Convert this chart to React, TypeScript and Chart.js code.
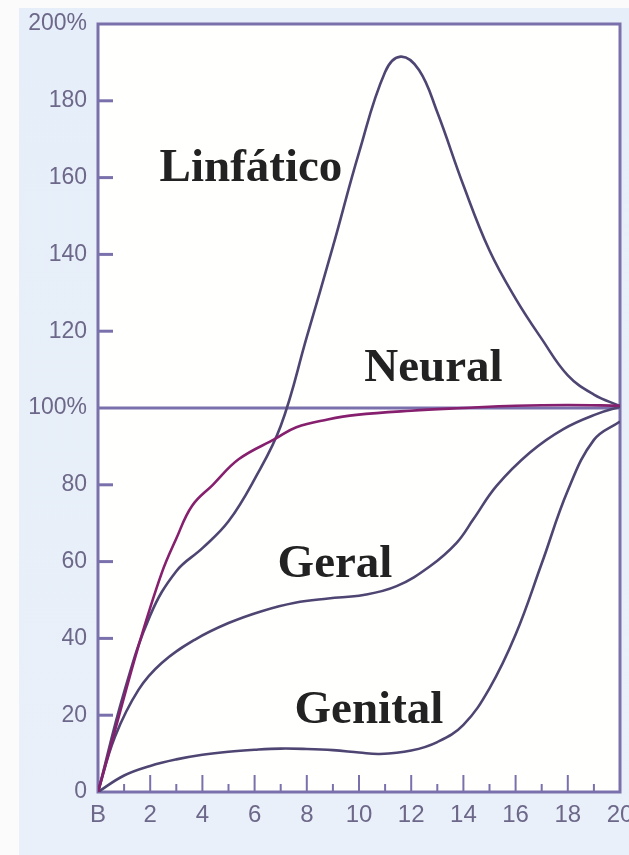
import React, { useEffect, useRef } from 'react';
import { Chart, registerables } from 'chart.js';

Chart.register(...registerables);

// Axis ticks
const yTickValues = [0, 20, 40, 60, 80, 100, 120, 140, 160, 180, 200];
const yTickLabels = ['0', '20', '40', '60', '80', '100%', '120', '140', '160', '180', '200%'];
const xTickYears = [0, 2, 4, 6, 8, 10, 12, 14, 16, 18, 20];
const xTickLabels = ['B', '2', '4', '6', '8', '10', '12', '14', '16', '18', '20'];
const xMinorYears = [1, 3, 5, 7, 9, 11, 13, 15, 17, 19];
const yInnerTicks = [20, 40, 60, 80, 120, 140, 160, 180];

// Reference line (100%)
const refAges = [0, 20];
const refValues = [100, 100];

// Linfático
const lymphAges = [0, 1, 2, 3, 4, 5, 6, 7, 8, 9, 10, 11, 11.6, 12.3, 13, 14, 15, 16, 17, 18, 19, 20];
const lymphValues = [0, 26, 46, 57.5, 63.5, 70.5, 81.5, 95.3, 118.5, 142, 166.5, 187.5, 191.5, 188, 177, 158, 141, 128.5, 118, 108.5, 103.5, 100.5];

// Neural
const neuralAges = [0, 0.65, 1.55, 2.44, 3, 3.6, 4.4, 5.4, 6.8, 7.6, 8.8, 9.9, 12, 14, 16, 18, 20];
const neuralValues = [0, 16, 38, 57, 66, 74.5, 80, 86.7, 92, 95, 97, 98.2, 99.3, 100, 100.6, 100.8, 100.6];

// Geral
const generalAges = [0, 0.65, 1.55, 2.44, 3.72, 5, 6.27, 7.55, 8.82, 10.17, 11.44, 12.72, 13.74, 14.38, 15.27, 16.55, 17.83, 19.1, 20];
const generalValues = [0, 14.4, 26.6, 33.6, 39.7, 44, 47.1, 49.3, 50.4, 51.3, 53.6, 58.8, 64.9, 71, 79.7, 88.4, 94.5, 98.4, 100.3];

// Genital
const genitalAges = [0, 1, 2, 3, 4, 5, 6, 7, 8, 9, 10, 10.8, 12, 13, 14, 15, 16, 17, 18, 19, 20];
const genitalValues = [0, 4.3, 6.8, 8.5, 9.7, 10.5, 11, 11.3, 11.2, 10.9, 10.3, 9.9, 10.8, 13, 17.5, 27, 41, 59.5, 78.5, 91.7, 96.5];

// In-plot labels (anchored in data coordinates)
const labelNames = ['Linfático', 'Neural', 'Geral', 'Genital'];
const labelAges = [2.36, 10.2, 6.88, 7.53];
const labelValues = [159, 107, 56, 18];

const toPoints = (xs: number[], ys: number[]) => xs.map((x, i) => ({ x, y: ys[i] }));

const PURPLE = '#7a70ac';
const CURVE = '#4f4572';
const NEURAL = '#86206e';
const TICK_TEXT = '#6d6889';

const decorPlugin = {
  id: 'decor',
  beforeDraw(chart: any) {
    const { ctx, width, height, chartArea } = chart;
    ctx.save();
    ctx.fillStyle = '#fbfbfc';
    ctx.fillRect(0, 0, width, height);
    const grad = ctx.createLinearGradient(0, 0, 0, height);
    grad.addColorStop(0, '#e6eef9');
    grad.addColorStop(1, '#e9f0f9');
    ctx.fillStyle = grad;
    ctx.fillRect(19, 8, width - 19, height - 8);
    ctx.fillStyle = '#fffffd';
    ctx.fillRect(chartArea.left, chartArea.top, chartArea.right - chartArea.left, chartArea.bottom - chartArea.top);
    ctx.restore();
  },
  beforeDatasetsDraw(chart: any) {
    const { ctx, chartArea } = chart;
    const xs = chart.scales.x;
    const ys = chart.scales.y;
    ctx.save();
    ctx.strokeStyle = PURPLE;
    ctx.lineCap = 'butt';
    ctx.lineWidth = 3;
    yInnerTicks.forEach((v) => {
      const py = ys.getPixelForValue(v);
      ctx.beginPath();
      ctx.moveTo(chartArea.left, py);
      ctx.lineTo(chartArea.left + 15, py);
      ctx.stroke();
    });
    ctx.lineWidth = 2;
    xTickYears.slice(1, -1).forEach((v) => {
      const px = xs.getPixelForValue(v);
      ctx.beginPath();
      ctx.moveTo(px, chartArea.bottom);
      ctx.lineTo(px, chartArea.bottom - 17);
      ctx.stroke();
    });
    xMinorYears.forEach((v) => {
      const px = xs.getPixelForValue(v);
      ctx.beginPath();
      ctx.moveTo(px, chartArea.bottom);
      ctx.lineTo(px, chartArea.bottom - 8);
      ctx.stroke();
    });
    ctx.lineWidth = 3;
    ctx.strokeRect(chartArea.left, chartArea.top, chartArea.right - chartArea.left, chartArea.bottom - chartArea.top);
    ctx.restore();
  },
  afterDatasetsDraw(chart: any) {
    const { ctx } = chart;
    const xs = chart.scales.x;
    const ys = chart.scales.y;
    ctx.save();
    ctx.fillStyle = '#222222';
    ctx.font = 'bold 47px "Liberation Serif", "Times New Roman", serif';
    ctx.textAlign = 'left';
    ctx.textBaseline = 'alphabetic';
    labelNames.forEach((name, i) => {
      ctx.fillText(name, xs.getPixelForValue(labelAges[i]), ys.getPixelForValue(labelValues[i]));
    });
    ctx.restore();
  },
};

export default function App() {
  const canvasRef = useRef<HTMLCanvasElement | null>(null);

  useEffect(() => {
    if (!canvasRef.current) return;
    const curve = (label: string, xs: number[], ys: number[], color: string, order: number) => ({
      label,
      data: toPoints(xs, ys),
      borderColor: color,
      backgroundColor: color,
      borderWidth: 2.6,
      pointRadius: 0,
      fill: false,
      tension: 0.4,
      order,
    });
    const chart = new Chart(canvasRef.current, {
      type: 'line',
      data: {
        datasets: [
          curve('Neural', neuralAges, neuralValues, NEURAL, 1),
          curve('Linfático', lymphAges, lymphValues, CURVE, 2),
          curve('Geral', generalAges, generalValues, CURVE, 3),
          curve('Genital', genitalAges, genitalValues, CURVE, 4),
          { ...curve('100%', refAges, refValues, PURPLE, 5), borderWidth: 3, tension: 0 },
        ],
      },
      options: {
        animation: false,
        responsive: false,
        events: [],
        layout: { padding: { top: 24, right: 9, left: 0, bottom: 0 } },
        plugins: { legend: { display: false }, tooltip: { enabled: false } },
        scales: {
          x: {
            type: 'linear',
            min: 0,
            max: 20,
            border: { display: false },
            grid: { display: false, drawTicks: false },
            afterBuildTicks: (scale: any) => {
              scale.ticks = xTickYears.map((v) => ({ value: v }));
            },
            afterFit: (scale: any) => {
              scale.height = 63;
              scale.paddingLeft = 0;
              scale.paddingRight = 0;
            },
            ticks: {
              autoSkip: false,
              maxRotation: 0,
              padding: 9,
              color: TICK_TEXT,
              font: { family: '"Liberation Sans", Arial, sans-serif', size: 24 },
              callback: (v: any) => {
                const i = xTickYears.indexOf(Number(v));
                return i >= 0 ? xTickLabels[i] : '';
              },
            },
          },
          y: {
            type: 'linear',
            min: 0,
            max: 200,
            border: { display: false },
            grid: { display: false, drawTicks: false },
            afterBuildTicks: (scale: any) => {
              scale.ticks = yTickValues.map((v) => ({ value: v }));
            },
            afterFit: (scale: any) => {
              scale.width = 98;
              scale.paddingTop = 0;
              scale.paddingBottom = 0;
            },
            ticks: {
              autoSkip: false,
              padding: 11,
              color: TICK_TEXT,
              font: { family: '"Liberation Sans", Arial, sans-serif', size: 23 },
              callback: (v: any) => {
                const i = yTickValues.indexOf(Number(v));
                return i >= 0 ? yTickLabels[i] : '';
              },
            },
          },
        },
      },
      plugins: [decorPlugin],
    } as any);
    return () => chart.destroy();
  }, []);

  return (
    <div style={{ position: 'absolute', left: 0, top: 0, width: 629, height: 855 }}>
      <canvas ref={canvasRef} width={629} height={855} style={{ display: 'block' }} />
    </div>
  );
}
